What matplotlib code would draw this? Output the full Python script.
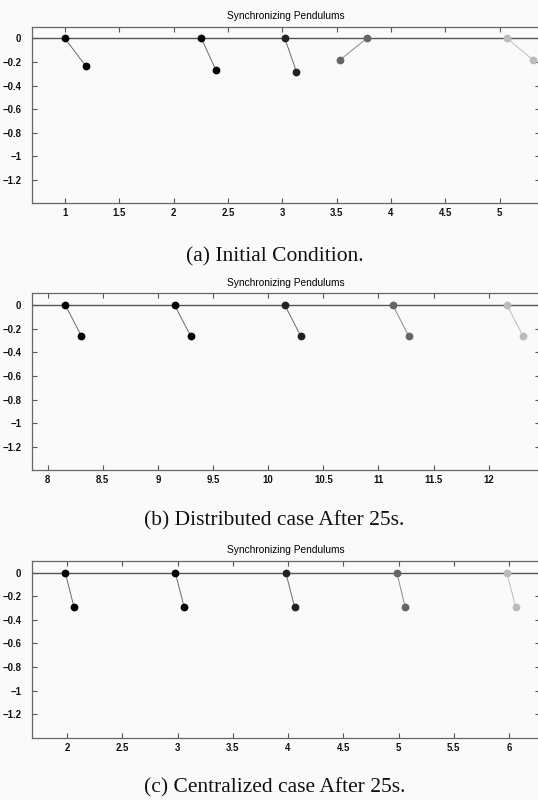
import matplotlib
matplotlib.use("Agg")
import matplotlib.pyplot as plt

# pendulum positions: pivot (x, 0) and bob (x, y)
pivot_x_a = [1.00, 2.255, 3.023, 3.776, 5.07]
bob_x_a = [1.19, 2.39, 3.13, 3.532, 5.31]
bob_y_a = [-0.232, -0.271, -0.283, -0.181, -0.186]

pivot_x_b = [8.16, 9.15, 10.15, 11.13, 12.166]
bob_x_b = [8.305, 9.297, 10.295, 11.274, 12.31]
bob_y_b = [-0.262, -0.262, -0.262, -0.262, -0.262]

pivot_x_c = [1.985, 2.98, 3.98, 4.985, 5.98]
bob_x_c = [2.063, 3.06, 4.06, 5.06, 6.06]
bob_y_c = [-0.291, -0.291, -0.291, -0.291, -0.291]

xticks_a = [1, 1.5, 2, 2.5, 3, 3.5, 4, 4.5, 5]
xticks_b = [8, 8.5, 9, 9.5, 10, 10.5, 11, 11.5, 12]
xticks_c = [2, 2.5, 3, 3.5, 4, 4.5, 5, 5.5, 6]
yticks = [0, -0.2, -0.4, -0.6, -0.8, -1, -1.2]

captions = ["(a) Initial Condition.",
            "(b) Distributed case After 25s.",
            "(c) Centralized case After 25s."]
title = "Synchronizing Pendulums"

# styling
bob_colors = ["#000000", "#050505", "#222222", "#666666", "#bbbbbb"]
rod_colors = ["#6a6a6a", "#6a6a6a", "#6a6a6a", "#8a8a8a", "#bdbdbd"]
bg = "#fafafa"

W, H = 538, 800
fig = plt.figure(figsize=(W / 100, H / 100), dpi=100, facecolor=bg)


def fmt(v):
    s = "%g" % v
    return s.replace("-", "\u2212")


def panel(top_px, bottom_px, xlim, xticks, piv, bx, by, cap, cap_base_px):
    left, right = 32.3, 540.0
    ax = fig.add_axes([left / W, 1 - bottom_px / H, (right - left) / W,
                       (bottom_px - top_px) / H])
    ax.set_facecolor(bg)
    ax.axhline(0, color="#555555", lw=1.0, zorder=1)
    for i in range(len(piv)):
        ax.plot([piv[i], bx[i]], [0, by[i]], color=rod_colors[i], lw=0.7,
                zorder=2)
        ax.plot([piv[i], bx[i]], [0, by[i]], ls="none", marker="o", ms=4.6,
                mfc=bob_colors[i], mec=bob_colors[i], zorder=3)
    ax.set_xlim(*xlim)
    ax.set_ylim(-1.4, 0.1)
    ax.set_xticks(xticks)
    ax.set_xticklabels([fmt(v) for v in xticks])
    ax.set_yticks(yticks)
    ax.set_yticklabels([fmt(v) for v in yticks])
    ax.tick_params(direction="in", length=3.5, width=0.8, colors="#555555",
                   labelcolor="#111111", labelsize=6.9, top=True, right=True)
    ax.tick_params(axis="y", pad=8.0)
    ax.tick_params(axis="x", pad=3.5)
    for lab in ax.get_xticklabels() + ax.get_yticklabels():
        lab.set_family("Liberation Sans")
        lab.set_weight("bold")
    for sp in ax.spines.values():
        sp.set_color("#666666")
        sp.set_linewidth(0.9)
    ax.set_title(title, fontsize=7.3, family="Liberation Sans", pad=5.5,
                 color="#000000")
    fig.text(0.51, 1 - cap_base_px / H, cap, ha="center", va="baseline",
             family="Liberation Serif", fontsize=15.5, color="#111111")
    return ax


panel(26.7, 203.3, (0.70, 5.37), xticks_a, pivot_x_a, bob_x_a, bob_y_a,
      captions[0], 261)
panel(293.3, 470.3, (7.86, 12.465), xticks_b, pivot_x_b, bob_x_b, bob_y_b,
      captions[1], 525.7)
panel(561.0, 737.7, (1.686, 6.28), xticks_c, pivot_x_c, bob_x_c, bob_y_c,
      captions[2], 792)

fig.savefig("out.png", dpi=100, facecolor=bg)
